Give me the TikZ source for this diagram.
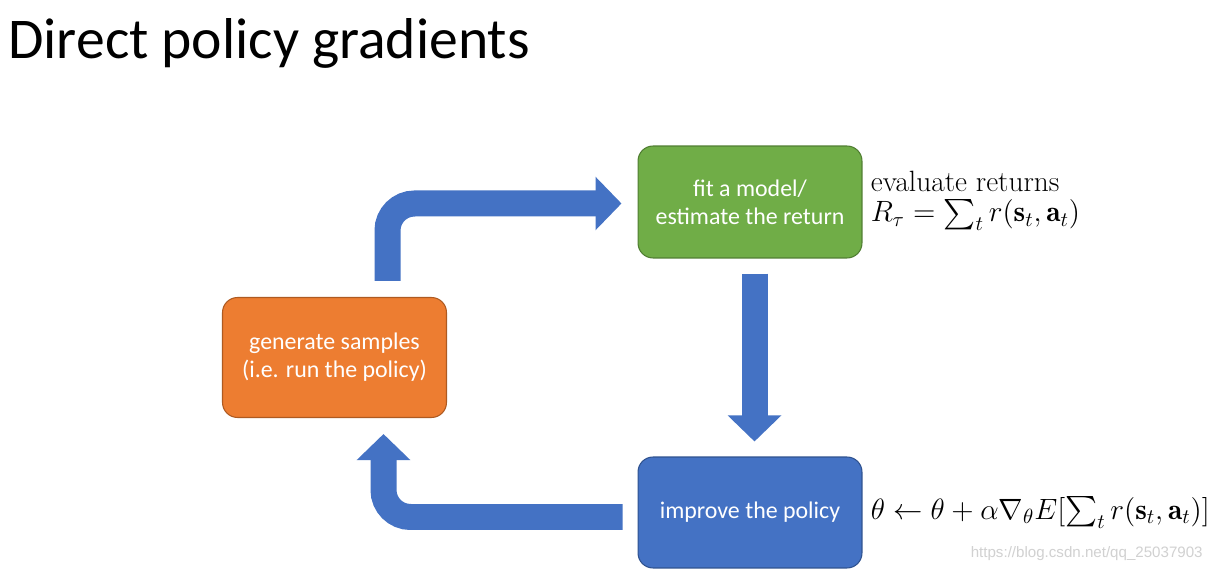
\RequirePackage{fix-cm}
\documentclass[tikz,border=0pt]{standalone}
\usepackage{amsmath}
\usepackage{fontspec}
\newfontfamily\calibri{Carlito}
\newfontfamily\urlfont{Liberation Sans}
\usetikzlibrary{arrows.meta,calc}
\definecolor{boxorange}{HTML}{ED7D31}
\definecolor{lineorange}{HTML}{AE5A21}
\definecolor{boxgreen}{HTML}{70AD47}
\definecolor{linegreen}{HTML}{507E32}
\definecolor{boxblue}{HTML}{4472C4}
\definecolor{lineblue}{HTML}{2F528F}
\tikzset{
  block/.style={rounded corners=0.3cm, minimum width=4.48cm, minimum height=2.24cm,
    align=center, text=white, line width=0.6pt,
    font=\calibri\fontsize{13.6}{16}\selectfont},
  flow/.style={draw=boxblue, line width=0.52cm, rounded corners=0.54cm,
    -{Triangle[width=1.04cm,length=0.52cm]}},
  formula/.style={anchor=west, align=left, inner sep=0pt,
    font=\fontsize{16.7}{17.5}\selectfont},
}
\begin{document}
\begin{tikzpicture}[x=0.02cm,y=-0.02cm]
  \useasboundingbox[fill=white] (0,0) rectangle (1213,573);
  \node[anchor=base west, inner sep=0pt, font=\calibri\fontsize{32.8}{38}\selectfont]
    (title) at (8,59) {Direct policy gradients};
  % the three steps
  \node[block, fill=boxgreen, draw=linegreen] (fit) at (750,202)
    {fit a model/\\estimate the return};
  \node[block, fill=boxblue, draw=lineblue, minimum height=2.22cm] (imp) at (750,512.5)
    {improve the policy};
  \node[block, fill=boxorange, draw=lineorange, minimum height=2.4cm] (gen) at (334.5,357.5)
    {generate samples\\(i.e. run the policy)};
  % side formulas
  \node[formula, anchor=base west] (ret) at ($(fit.east)+(8,-10)$) {evaluate returns};
  \node[formula, anchor=base west] (sum) at ($(ret.base west)+(0,30)$)
    {$R_\tau = \sum_t r(\mathbf{s}_t,\mathbf{a}_t)$};
  \node[formula] (upd) at ($(imp.east)+(8,0)$)
    {$\theta \leftarrow \theta + \alpha\nabla_\theta E[\sum_t r(\mathbf{s}_t,\mathbf{a}_t)]$};
  \node[anchor=base east, inner sep=0pt, text=black!18, font=\urlfont\fontsize{8.6}{10}\selectfont]
    (url) at (1203,558) {https://blog.csdn.net/qq\_25037903};
  % the loop
  \coordinate (a1) at ($(gen.north)+(53,-16)$);
  \coordinate (a2) at ($(fit.west)+(-16,1.5)$);
  \draw[flow] (a1) -- (a1 |- a2) -- (a2);
  \coordinate (b1) at ($(fit.south)+(4.5,15)$);
  \coordinate (b2) at ($(imp.north)+(4.5,-15)$);
  \draw[flow] (b1) -- (b2);
  \coordinate (c1) at ($(imp.west)+(-15,4.5)$);
  \coordinate (c2) at ($(gen.south)+(49,16)$);
  \draw[flow] (c1) -- (c2 |- c1) -- (c2);
\end{tikzpicture}
\end{document}
